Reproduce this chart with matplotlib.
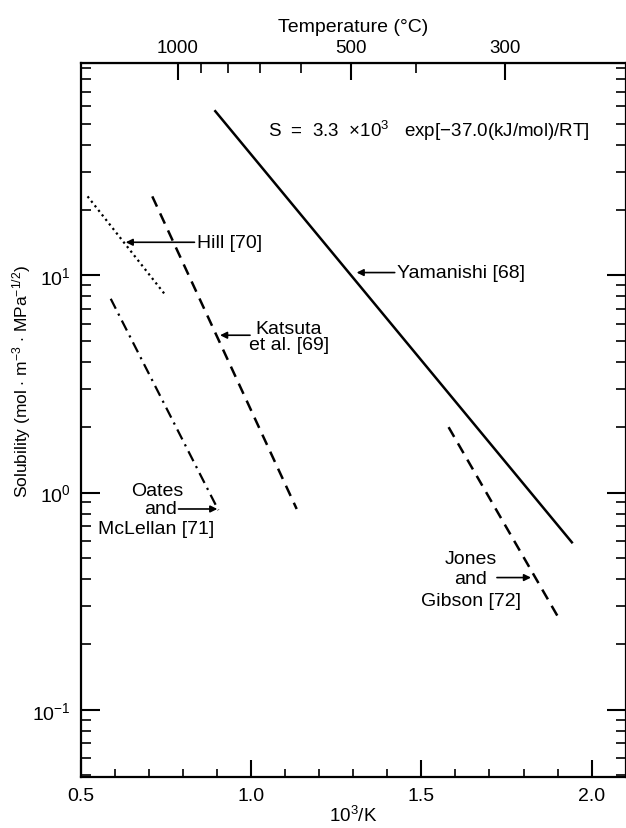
import matplotlib
matplotlib.use("Agg")
import matplotlib.pyplot as plt
import numpy as np
from matplotlib.ticker import LogLocator, NullFormatter, MultipleLocator, FixedLocator

plt.rcParams['font.family'] = ['Liberation Sans', 'DejaVu Sans']
plt.rcParams['mathtext.fontset'] = 'custom'
plt.rcParams['mathtext.rm'] = 'Liberation Sans'
plt.rcParams['mathtext.it'] = 'Liberation Sans:italic'

# Data (x = 10^3/K, y = solubility)
yamanishi_x = [0.895, 1.942]
yamanishi_y = [57.0, 0.59]
hill_x = [0.52, 0.749]
hill_y = [23.1, 8.1]
katsuta_x = [0.71, 1.134]
katsuta_y = [23.1, 0.84]
oates_x = [0.588, 0.904]
oates_y = [7.8, 0.83]
jones_x = [1.58, 1.909]
jones_y = [2.0, 0.255]

bottom_ticks = [0.5, 1.0, 1.5, 2.0]
bottom_labels = ['0.5', '1.0', '1.5', '2.0']
top_major_C = [1000, 500, 300]
top_minor_C = [900, 800, 700, 600, 400]

fig = plt.figure(figsize=(6.26, 8.29), dpi=100)
ax = fig.add_axes([0.129, 0.0615, 0.8705, 0.8613])

ax.plot(yamanishi_x, yamanishi_y, color='black', lw=1.8, ls='-')
ax.plot(hill_x, hill_y, color='black', lw=1.6, ls=(0, (1, 1.6)))
ax.plot(katsuta_x, katsuta_y, color='black', lw=1.8, ls=(0, (4.5, 3)))
ax.plot(oates_x, oates_y, color='black', lw=1.6, ls=(0, (5, 2.5, 1, 2.5)))
ax.plot(jones_x, jones_y, color='black', lw=1.8, ls=(0, (4.5, 3)))

ax.set_yscale('log')
ax.set_xlim(0.5, 2.1)
ax.set_ylim(0.049, 95)

ax.xaxis.set_major_locator(FixedLocator(bottom_ticks))
ax.xaxis.set_minor_locator(MultipleLocator(0.1))
ax.set_xticklabels(bottom_labels)
ax.yaxis.set_major_locator(LogLocator(base=10, numticks=10))
ax.yaxis.set_minor_locator(LogLocator(base=10, subs=np.arange(2, 10), numticks=20))
ax.yaxis.set_minor_formatter(NullFormatter())

ax.tick_params(axis='x', which='major', direction='in', length=12, width=1.5,
               labelsize=14, top=False, pad=7)
ax.tick_params(axis='x', which='minor', direction='in', length=6, width=1.2, top=False)
ax.tick_params(axis='y', which='major', direction='in', length=14, width=1.5,
               labelsize=14, right=True, pad=7)
ax.tick_params(axis='y', which='minor', direction='in', length=7, width=1.2, right=True)
for s in ax.spines.values():
    s.set_linewidth(1.6)

ax.set_xlabel('10$^3$/K', fontsize=13.5, labelpad=1)
ax.set_ylabel(r'Solubility (mol $\cdot$ m$^{-3}$ $\cdot$ MPa$^{-1/2}$)', fontsize=12.5)
ax.yaxis.set_label_coords(-0.088, 0.556)

def x_to_c(x):
    x = np.asarray(x, dtype=float)
    with np.errstate(divide='ignore', invalid='ignore'):
        return 1000.0 / x - 273.15

def c_to_x(c):
    c = np.asarray(c, dtype=float)
    with np.errstate(divide='ignore', invalid='ignore'):
        return 1000.0 / (c + 273.15)

sec = ax.secondary_xaxis('top', functions=(x_to_c, c_to_x))
sec.xaxis.set_major_locator(FixedLocator(top_major_C))
sec.xaxis.set_minor_locator(FixedLocator(top_minor_C))
sec.set_xticklabels([str(v) for v in top_major_C])
sec.tick_params(which='major', direction='in', length=12, width=1.5, labelsize=13.5, pad=5)
sec.tick_params(which='minor', direction='in', length=7, width=1.2)
sec.set_xlabel('Temperature (°C)', fontsize=14, labelpad=6)

fs = 14
arrow = dict(arrowstyle='-|>', color='black', lw=1.2, mutation_scale=10, shrinkA=0, shrinkB=0)

ax.text(1.05, 46.6, r'S  =  3.3  $\times$10$^3$   exp[$-$37.0(kJ/mol)/RT]', fontsize=13.5,
        va='center', ha='left')

ax.annotate('Hill [70]', xy=(0.632, 14.2), xytext=(0.842, 14.2), va='center', ha='left',
            fontsize=fs, arrowprops=arrow)
ax.annotate('Yamanishi [68]', xy=(1.31, 10.3), xytext=(1.43, 10.3), va='center', ha='left',
            fontsize=fs, arrowprops=arrow)

ax.text(1.111, 5.24, 'Katsuta\net al. [69]', ha='center', va='center', linespacing=0.95,
        fontsize=fs)
ax.annotate('', xy=(0.909, 5.3), xytext=(0.997, 5.3), arrowprops=arrow)

ax.text(0.725, 1.02, 'Oates', ha='center', va='center', fontsize=fs)
ax.text(0.734, 0.84, 'and', ha='center', va='center', fontsize=fs)
ax.text(0.722, 0.68, 'McLellan [71]', ha='center', va='center', fontsize=fs)
ax.annotate('', xy=(0.901, 0.84), xytext=(0.787, 0.84), arrowprops=arrow)

ax.text(1.646, 0.497, 'Jones', ha='center', va='center', fontsize=fs)
ax.text(1.646, 0.40, 'and', ha='center', va='center', fontsize=fs)
ax.text(1.646, 0.318, 'Gibson [72]', ha='center', va='center', fontsize=fs)
ax.annotate('', xy=(1.822, 0.406), xytext=(1.722, 0.406), arrowprops=arrow)

fig.savefig('out.png', dpi=100)
